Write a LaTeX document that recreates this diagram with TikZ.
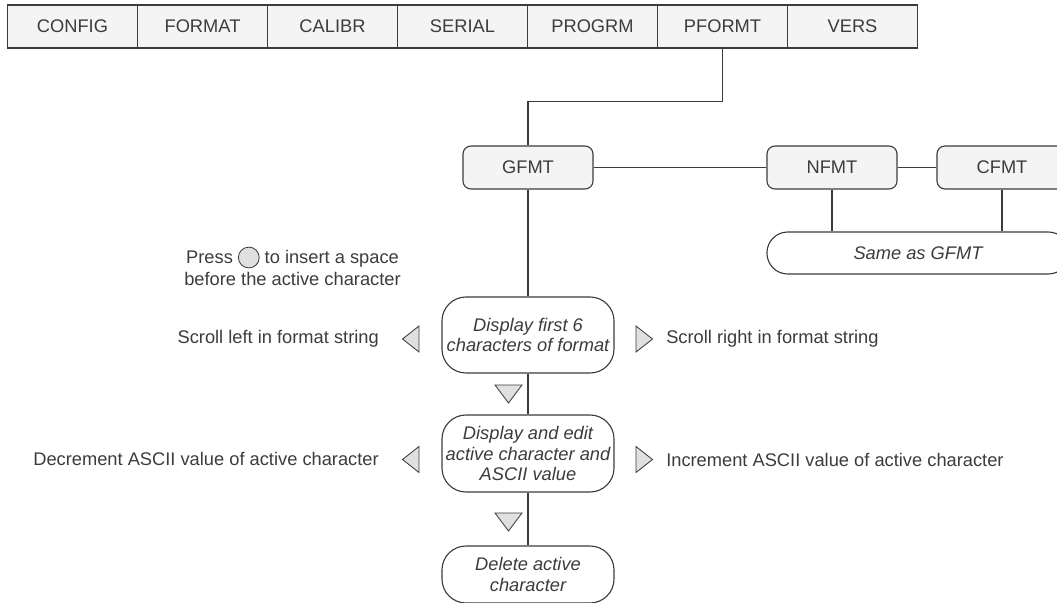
\documentclass[tikz,border=0pt]{standalone}
\usepackage{fontspec}
\setmainfont{Liberation Sans}
\usepackage{tikz}

\definecolor{ink}{HTML}{3C3C3C}
\definecolor{keyfill}{HTML}{F4F4F4}
\definecolor{trifill}{HTML}{E0E0E0}

\begin{document}
\begin{tikzpicture}[x=0.025cm,y=-0.025cm,line width=0.8pt,
  every node/.style={text=ink,font=\fontsize{13}{15.5}\selectfont},
  menu/.style={draw=ink,fill=keyfill,minimum width=3.25cm,minimum height=1.075cm,inner sep=0pt},
  fmt/.style={draw=ink,fill=keyfill,rounded corners=0.2cm,minimum width=3.25cm,minimum height=1.075cm},
  dispbox/.style={draw=ink,fill=white,rounded corners=0.6cm,align=center,inner sep=2pt,
    minimum width=4.3cm,font=\fontsize{13}{14.5}\selectfont\itshape},
  keytri/.style={draw=ink,fill=trifill,line width=0.6pt}]
\clip (0,0) rectangle (1057,603);
% menu bar
\foreach \lbl [count=\i from 0] in {CONFIG,FORMAT,CALIBR,SERIAL,PROGRM,PFORMT,VERS}
  \node[menu] (m\i) at (72.5+130*\i,26.5) {\lbl};
\node[fmt] (gfmt) at (528,167.5) {GFMT};
\node[fmt] (nfmt) at (832,167.5) {NFMT};
\node[fmt] (cfmt) at (1002,167.5) {CFMT};
\node[dispbox,rounded corners=0.52cm,minimum width=7.55cm,minimum height=1.05cm] (same) at (918,253) {Same as GFMT};
\draw[ink] (m5.south) -- ++(0,53) -| (gfmt.north);
\draw[ink] (gfmt) -- (nfmt) -- (cfmt);
\draw[ink] (nfmt.south) -- (nfmt.south |- same.north);
\draw[ink] (cfmt.south) -- (cfmt.south |- same.north);
% format editing
\node[dispbox,minimum height=1.9cm] (first) at (528,335) {Display first 6\\characters of format};
\node[dispbox,minimum height=1.925cm] (edit) at (528,453.5) {Display and edit\\active character and\\ASCII value};
\node[dispbox,minimum height=1.425cm] (del) at (528,574.5) {Delete active\\character};
\draw[ink] (gfmt) -- (first) -- (edit) -- (del);
\foreach \y in {385,513}
  \draw[keytri] (495,\y) -- ++(27,0) -- ++(-13.5,18) -- cycle;
\foreach \y in {339,459.5}{
  \draw[keytri] (419,\y-13) -- (419,\y+13) -- (402.5,\y) -- cycle;
  \draw[keytri] (636,\y-13) -- (636,\y+13) -- (652.5,\y) -- cycle;
}
\node[anchor=east] (scrl) at (384,339) {Scroll left in format string};
\node[anchor=west] (scrr) at (661,339) {Scroll right in format string};
\node[anchor=east] (decr) at (384,459) {Decrement ASCII value of active character};
\node[anchor=west] (incr) at (661,460) {Increment ASCII value of active character};
\node[align=center] (press) at (292.5,266) {Press \tikz[baseline=-0.6ex]\draw[ink,fill=trifill,line width=0.6pt] (0,0) circle (0.26cm); to insert a space\\before the active character};
\end{tikzpicture}
\end{document}
